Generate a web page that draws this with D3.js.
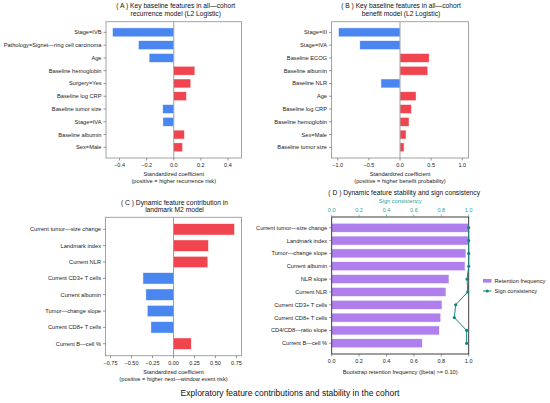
<!DOCTYPE html>
<html><head><meta charset="utf-8">
<script src="https://cdn.jsdelivr.net/npm/d3@7"></script>
<style>
html,body{margin:0;padding:0;background:#fff;}
svg{display:block;font-family:"Liberation Sans",Arial,Helvetica,sans-serif;}
</style></head>
<body><svg id="c" width="550" height="403"></svg>
<script>
// ---- data ----
const catsA = ["Stage=IVB","Pathology=Signet\u2014ring cell carcinoma","Age","Baseline hemoglobin","Surgery=Yes","Baseline log CRP","Baseline tumor size","Stage=IVA","Baseline albumin","Sex=Male"];
const valsA = [-0.452,-0.261,-0.182,0.156,0.126,0.094,-0.081,-0.080,0.079,0.065];
const ticksA = [-0.4,-0.2,0.0,0.2,0.4];

const catsB = ["Stage=III","Stage=IVA","Baseline ECOG","Baseline albumin","Baseline NLR","Age","Baseline log CRP","Baseline hemoglobin","Sex=Male","Baseline tumor size"];
const valsB = [-0.989,-0.645,0.468,0.447,-0.306,0.258,0.184,0.145,0.097,0.065];
const ticksB = [-1.0,-0.5,0.0,0.5,1.0];

const catsC = ["Current tumor\u2014size change","Landmark index","Current NLR","Current CD3+ T cells","Current albumin","Tumor\u2014change slope","Current CD8+ T cells","Current B\u2014cell %"];
const valsC = [0.726,0.417,0.409,-0.364,-0.329,-0.313,-0.269,0.211];
const ticksC = [-0.75,-0.50,-0.25,0.00,0.25,0.50,0.75];

const catsD = ["Current tumor\u2014size change","Landmark index","Tumor\u2014change slope","Current albumin","NLR slope","Current NLR","Current CD3+ T cells","Current CD8+ T cells","CD4/CD8\u2014ratio slope","Current B\u2014cell %"];
const retentionD = [0.997,0.997,0.980,0.973,0.856,0.834,0.805,0.796,0.785,0.661];
const signD = [1.0,1.0,1.0,1.0,0.988,0.993,0.905,0.895,0.985,0.985];
const ticksD = [0.0,0.2,0.4,0.6,0.8,1.0];

// ---- styles ----
const BLUE="#4a86f0", RED="#f0454e", PURPLE="#b07fee", TEAL="#12877f", TEAL_L="#2aa59b";
const FS_TICK=5.5, FS_LAB=5.7, FS_TITLE=6.7, FS_SUP=8.5;
const svg = d3.select("#c");

function yScaleFor(n, top, bottom){
  const h=0.35, m=0.05*(n-1+2*h);
  return d3.scaleLinear().domain([-h-m, n-1+h+m]).range([top,bottom]);
}

function drawFrame(g, x0,x1,y0,y1,color){
  g.append("rect").attr("x",x0).attr("y",y0).attr("width",x1-x0).attr("height",y1-y0)
    .attr("fill","none").attr("stroke",color).attr("stroke-width",0.9);
}

function yLabels(g, cats, y, xLeft){
  cats.forEach((c,i)=>{
    g.append("line").attr("x1",xLeft-2.5).attr("x2",xLeft).attr("y1",y(i)).attr("y2",y(i)).attr("stroke","#555").attr("stroke-width",0.6);
    g.append("text").attr("x",xLeft-4.5).attr("y",y(i)).attr("dy","0.35em").attr("text-anchor","end")
      .attr("font-size",FS_LAB).attr("fill","#222").text(c);
  });
}

function xTicks(g, x, ticks, yPos, fmt, dir, color){
  ticks.forEach(t=>{
    g.append("line").attr("x1",x(t)).attr("x2",x(t)).attr("y1",yPos).attr("y2",yPos+2.5*dir).attr("stroke",color||"#555").attr("stroke-width",0.6);
    g.append("text").attr("x",x(t)).attr("y",dir>0? yPos+8.8 : yPos-5.3).attr("text-anchor","middle")
      .attr("font-size",FS_TICK).attr("fill",color||"#222").text(fmt(t));
  });
}

function coefPanel(cfg){
  const g = svg.append("g");
  const x = d3.scaleLinear().domain(cfg.domain).range([cfg.x0,cfg.x1]);
  const y = yScaleFor(cfg.cats.length, cfg.y0, cfg.y1);
  const bh = y(0.35)-y(-0.35);
  g.selectAll("rect.bar").data(cfg.vals).enter().append("rect")
    .attr("x",d=>Math.min(x(0),x(d))).attr("width",d=>Math.abs(x(d)-x(0)))
    .attr("y",(d,i)=>y(i)-bh/2).attr("height",bh)
    .attr("fill",d=>d<0?BLUE:RED).attr("stroke","#fff").attr("stroke-width",0.5);
  g.append("line").attr("x1",x(0)).attr("x2",x(0)).attr("y1",cfg.y0).attr("y2",cfg.y1).attr("stroke","#888").attr("stroke-width",0.8);
  drawFrame(g,cfg.x0,cfg.x1,cfg.y0,cfg.y1,"#9a9a9a");
  yLabels(g,cfg.cats,y,cfg.x0);
  xTicks(g,x,cfg.ticks,cfg.y1,d3.format(cfg.fmt),1);
  const cx=(cfg.x0+cfg.x1)/2;
  g.append("text").attr("x",cx).attr("y",cfg.y1+18.2).attr("text-anchor","middle").attr("font-size",FS_LAB).attr("fill","#222").text("Standardized coefficient");
  g.append("text").attr("x",cx).attr("y",cfg.y1+25.2).attr("text-anchor","middle").attr("font-size",FS_LAB).attr("fill","#222").text(cfg.xlab2);
  cfg.title.forEach((t,k)=>{
    g.append("text").attr("x",cx+cfg.tdx).attr("y",cfg.ty+k*7.6).attr("text-anchor","middle").attr("font-size",FS_TITLE).attr("fill","#111").text(t);
  });
}

coefPanel({cats:catsA, vals:valsA, ticks:ticksA, domain:[-0.5,0.5], fmt:".1f",
  x0:106, x1:241.5, y0:21.7, y1:158, xlab2:"(positive = higher recurrence risk)",
  title:["( A ) Key baseline features in all\u2014cohort","recurrence model (L2 Logistic)"], ty:8, tdx:2});
coefPanel({cats:catsB, vals:valsB, ticks:ticksB, domain:[-1.1,1.1], fmt:".1f",
  x0:331.5, x1:468.5, y0:21.7, y1:158, xlab2:"(positive = higher benefit probability)",
  title:["( B ) Key baseline features in all\u2014cohort","benefit model (L2 Logistic)"], ty:8, tdx:1});
coefPanel({cats:catsC, vals:valsC, ticks:ticksC, domain:[-0.81,0.81], fmt:".2f",
  x0:105.5, x1:241.5, y0:217.3, y1:355.7, xlab2:"(positive = higher next\u2014window event risk)",
  title:["( C ) Dynamic feature contribution in","landmark M2 model"], ty:204.6, tdx:1});

// ---- panel D ----
(function(){
  const x0=331.7,x1=468.7,y0=217,y1=354;
  const g=svg.append("g");
  const x=d3.scaleLinear().domain([0,1]).range([x0,x1]);
  const xs=d3.scaleLinear().domain([0,1]).range([x0,x1]);
  const y=yScaleFor(catsD.length,y0,y1);
  const bh=y(0.35)-y(-0.35);
  g.selectAll("rect.bar").data(retentionD).enter().append("rect")
    .attr("x",x(0)).attr("width",d=>x(d)-x(0)).attr("y",(d,i)=>y(i)-bh/2).attr("height",bh)
    .attr("fill",PURPLE).attr("stroke","#fff").attr("stroke-width",0.5);
  drawFrame(g,x0,x1,y0,y1,"#2a2a2a");
  const line=d3.line().x(d=>xs(d)).y((d,i)=>y(i));
  g.append("path").attr("d",line(signD)).attr("fill","none").attr("stroke",TEAL).attr("stroke-width",1);
  g.selectAll("circle.s").data(signD).enter().append("circle").attr("cx",d=>xs(d)).attr("cy",(d,i)=>y(i)).attr("r",1.6).attr("fill",TEAL);
  yLabels(g,catsD,y,x0);
  xTicks(g,x,ticksD,y1,d3.format(".1f"),1);
  xTicks(g,xs,ticksD,y0,d3.format(".1f"),-1,TEAL_L);
  const cx=(x0+x1)/2;
  g.append("text").attr("x",cx).attr("y",y1+19.7).attr("text-anchor","middle").attr("font-size",FS_LAB).attr("fill","#222").text("Bootstrap retention frequency (|beta| >= 0.10)");
  g.append("text").attr("x",cx).attr("y",y0-13.7).attr("text-anchor","middle").attr("font-size",FS_LAB).attr("fill",TEAL_L).text("Sign consistency");
  g.append("text").attr("x",cx+4).attr("y",195).attr("text-anchor","middle").attr("font-size",FS_TITLE).attr("fill","#111").text("( D ) Dynamic feature stability and sign consistency");
  // legend
  g.append("rect").attr("x",483).attr("y",279).attr("width",8.5).attr("height",3.6).attr("fill",PURPLE);
  g.append("text").attr("x",494.5).attr("y",281).attr("dy","0.35em").attr("font-size",FS_LAB).attr("fill","#222").text("Retention frequency");
  g.append("line").attr("x1",483).attr("x2",491.5).attr("y1",291).attr("y2",291).attr("stroke",TEAL).attr("stroke-width",1);
  g.append("circle").attr("cx",487.2).attr("cy",291).attr("r",1.6).attr("fill",TEAL);
  g.append("text").attr("x",494.5).attr("y",291).attr("dy","0.35em").attr("font-size",FS_LAB).attr("fill","#222").text("Sign consistency");
})();

svg.append("text").attr("x",290).attr("y",396).attr("text-anchor","middle").attr("font-size",FS_SUP).attr("fill","#111")
  .text("Exploratory feature contributions and stability in the cohort");
</script></body></html>
